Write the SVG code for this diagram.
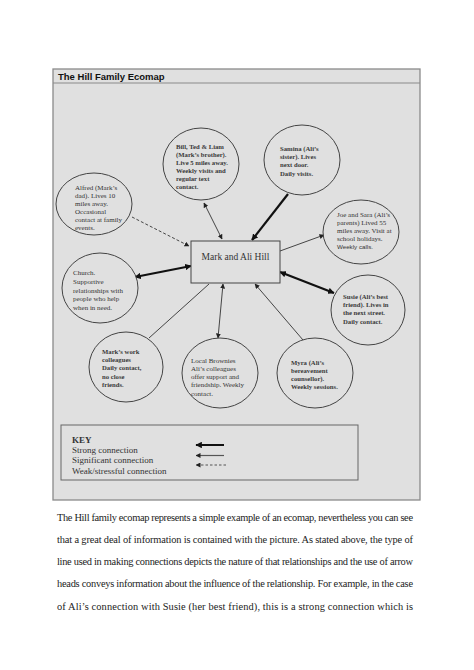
<svg xmlns="http://www.w3.org/2000/svg" width="474" height="670" viewBox="0 0 474 670">
<style>
.frame{fill:#e0e0e0;stroke:#8a8a8a;stroke-width:1.3}
.node{fill:#e0e0e0;stroke:#444;stroke-width:1}
.lbl{font-family:"Liberation Serif","DejaVu Serif",serif;font-size:7px;fill:#333}
.b{font-weight:bold;font-size:6.7px;fill:#3a3a3a}
.thin{stroke:#333;stroke-width:0.9;fill:none}
.thick{stroke:#111;stroke-width:2.2;fill:none}
.dash{stroke:#333;stroke-width:0.9;fill:none;stroke-dasharray:3 2}
.key{font-family:"Liberation Serif","DejaVu Serif",serif;font-size:9px;fill:#333}
.para{font-family:"Liberation Serif","Times New Roman",serif;font-size:10.4px;fill:#222}
</style>
<defs>
<marker id="ah" viewBox="0 0 10 10" refX="9" refY="5" markerWidth="5" markerHeight="5" markerUnits="userSpaceOnUse" orient="auto-start-reverse"><path d="M0,0 L10,5 L0,10 z" fill="#222"/></marker>
<marker id="ahk" viewBox="0 0 10 10" refX="9" refY="5" markerWidth="6.5" markerHeight="6.5" markerUnits="userSpaceOnUse" orient="auto-start-reverse"><path d="M0,0 L10,5 L0,10 z" fill="#111"/></marker>
</defs>
<rect width="474" height="670" fill="#fff"/>
<g id="frame">
<rect class="frame" x="53" y="69" width="367" height="431"/>
<line x1="53" y1="83" x2="420" y2="83" stroke="#8a8a8a" stroke-width="1"/>
<text x="58" y="79.5" font-family="'Liberation Sans',Arial,sans-serif" font-size="9.5" font-weight="bold" fill="#111">The Hill Family Ecomap</text>
</g>
<g id="connectors">
<line class="dash" x1="132" y1="217" x2="189" y2="246" marker-end="url(#ah)"/>
<line class="thin" x1="204" y1="203" x2="222" y2="239" marker-start="url(#ah)" marker-end="url(#ah)"/>
<line class="thick" x1="288" y1="194" x2="252" y2="240" marker-end="url(#ahk)"/>
<line class="thin" x1="280" y1="251" x2="324" y2="235" marker-end="url(#ah)"/>
<line class="thick" x1="135" y1="277" x2="191" y2="266" marker-start="url(#ahk)" marker-end="url(#ahk)"/>
<line class="thick" x1="280" y1="272" x2="334" y2="293" marker-start="url(#ahk)" marker-end="url(#ahk)"/>
<line class="thin" x1="149" y1="338" x2="209" y2="284"/>
<line class="thin" x1="223" y1="284" x2="218" y2="338" marker-start="url(#ah)" marker-end="url(#ah)"/>
<line class="thin" x1="303" y1="340" x2="255" y2="284" marker-end="url(#ah)"/>
</g>
<g id="center">
<rect x="191" y="241" width="89" height="42" fill="#e0e0e0" stroke="#444" stroke-width="1"/>
<text x="235.5" y="260" text-anchor="middle" font-family="'Liberation Serif',serif" font-size="9.5" fill="#333">Mark and Ali Hill</text>
</g>
<g id="alfred">
<ellipse class="node" cx="94" cy="204" rx="38" ry="31"/>
<text class="lbl"><tspan x="75" y="190">Alfred (Mark’s</tspan><tspan x="75" y="198">dad). Lives 10</tspan><tspan x="75" y="206">miles away.</tspan><tspan x="75" y="214">Occasional</tspan><tspan x="75" y="222">contact at family</tspan><tspan x="75" y="230">events.</tspan></text>
</g>
<g id="bill">
<ellipse class="node" cx="201" cy="164" rx="38" ry="36"/>
<text class="lbl b"><tspan x="176" y="149">Bill, Ted &amp; Liam</tspan><tspan x="176" y="157">(Mark’s brother).</tspan><tspan x="176" y="165">Live 5 miles away.</tspan><tspan x="176" y="173">Weekly visits and</tspan><tspan x="176" y="181">regular text</tspan><tspan x="176" y="189">contact.</tspan></text>
</g>
<g id="samina">
<ellipse class="node" cx="302" cy="160" rx="38" ry="35"/>
<text class="lbl b"><tspan x="280" y="151">Samina (Ali’s</tspan><tspan x="280" y="159">sister). Lives</tspan><tspan x="280" y="167">next door.</tspan><tspan x="280" y="176">Daily visits.</tspan></text>
</g>
<g id="joesara">
<ellipse class="node" cx="361" cy="232" rx="38" ry="32"/>
<text class="lbl" font-size="6.4"><tspan x="337" y="217">Joe and Sara (Ali’s</tspan><tspan x="337" y="225">parents) Lived 55</tspan><tspan x="337" y="233">miles away. Visit at</tspan><tspan x="337" y="241">school holidays.</tspan><tspan x="337" y="249" font-family="'Liberation Sans',sans-serif" font-size="6.2">Weekly calls.</tspan></text>
</g>
<g id="church">
<ellipse class="node" cx="100" cy="288" rx="38" ry="35"/>
<text class="lbl" font-size="7.6"><tspan x="73" y="275">Church.</tspan><tspan x="73" y="284">Supportive</tspan><tspan x="73" y="292.5">relationships with</tspan><tspan x="73" y="301">people who help</tspan><tspan x="73" y="309.5">when in need.</tspan></text>
</g>
<g id="susie">
<ellipse class="node" cx="368" cy="310" rx="37" ry="35"/>
<text class="lbl b"><tspan x="343" y="299">Susie (Ali’s best</tspan><tspan x="343" y="307">friend). Lives in</tspan><tspan x="343" y="315">the next street.</tspan><tspan x="343" y="324">Daily contact.</tspan></text>
</g>
<g id="work">
<ellipse class="node" cx="126" cy="367" rx="37" ry="35"/>
<text class="lbl b"><tspan x="102" y="354">Mark’s work</tspan><tspan x="102" y="362">colleagues</tspan><tspan x="102" y="370">Daily contact,</tspan><tspan x="102" y="379">no close</tspan><tspan x="102" y="387">friends.</tspan></text>
</g>
<g id="brownies">
<ellipse class="node" cx="220" cy="373" rx="38" ry="35"/>
<text class="lbl"><tspan x="191" y="363">Local Brownies</tspan><tspan x="191" y="371">Ali’s colleagues</tspan><tspan x="191" y="379">offer support and</tspan><tspan x="191" y="387">friendship. Weekly</tspan><tspan x="191" y="396">contact.</tspan></text>
</g>
<g id="myra">
<ellipse class="node" cx="315" cy="373" rx="38" ry="35"/>
<text class="lbl b"><tspan x="291" y="365">Myra (Ali’s</tspan><tspan x="291" y="373">bereavement</tspan><tspan x="291" y="381">counsellor).</tspan><tspan x="291" y="389">Weekly sessions.</tspan></text>
</g>
<g id="keybox">
<rect x="61" y="425" width="297" height="55" fill="#e0e0e0" stroke="#666" stroke-width="1"/>
<text class="key" x="72" y="443" font-weight="bold">KEY</text>
<text class="key" x="72" y="453">Strong connection</text>
<text class="key" x="72" y="463">Significant connection</text>
<text class="key" x="72" y="474">Weak/stressful connection</text>
<line x1="224" y1="445" x2="196" y2="445" stroke="#111" stroke-width="2" marker-end="url(#ahk)"/>
<line x1="224" y1="455.5" x2="196" y2="455.5" stroke="#555" stroke-width="1.2" marker-end="url(#ah)"/>
<line x1="226" y1="465" x2="196" y2="465" stroke="#444" stroke-width="0.9" stroke-dasharray="2.5 2" marker-end="url(#ah)"/>
</g>
<g id="paragraph">
<text class="para" x="57" y="521" textLength="356" lengthAdjust="spacing">The Hill family ecomap represents a simple example of an ecomap, nevertheless you can see</text>
<text class="para" x="57" y="543" textLength="356" lengthAdjust="spacing">that a great deal of information is contained with the picture. As stated above, the type of</text>
<text class="para" x="57" y="565" textLength="356" lengthAdjust="spacing">line used in making connections depicts the nature of that relationships and the use of arrow</text>
<text class="para" x="57" y="587" textLength="356" lengthAdjust="spacing">heads conveys information about the influence of the relationship. For example, in the case</text>
<text class="para" x="57" y="610" textLength="356" lengthAdjust="spacing">of Ali’s connection with Susie (her best friend), this is a strong connection which is</text>
</g>
</svg>
